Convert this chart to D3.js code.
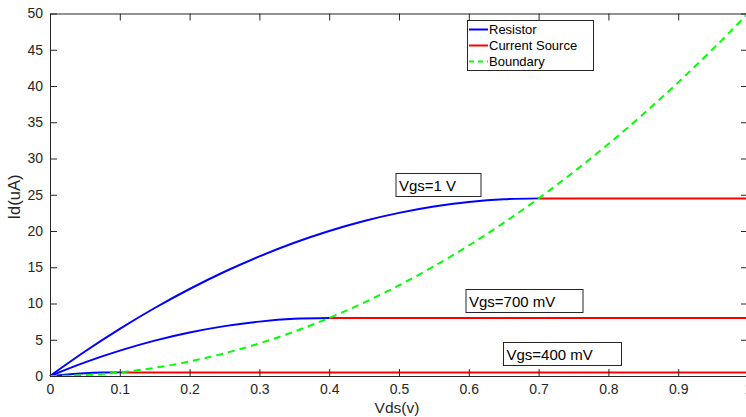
<!DOCTYPE html>
<html>
<head>
<meta charset="utf-8">
<script src="https://cdn.jsdelivr.net/npm/d3@7"></script>
<style>
  body { margin: 0; background: #fff; }
  svg { display: block; font-family: "Liberation Sans", Arial, sans-serif; }
</style>
</head>
<body>
<svg id="chart"></svg>
<script>
// values (Vds in V, Id in uA)
const vdsHigh = [0, 0.05, 0.1, 0.15, 0.2, 0.25, 0.3, 0.35, 0.4, 0.45, 0.5, 0.55, 0.6, 0.65, 0.7];
const idHigh = [0, 3.38, 6.5, 9.38, 12, 14.38, 16.5, 18.38, 20, 21.38, 22.5, 23.38, 24, 24.38, 24.5];
const vdsMid = [0, 0.05, 0.1, 0.15, 0.2, 0.25, 0.3, 0.35, 0.4];
const idMid = [0, 1.88, 3.5, 4.88, 6, 6.88, 7.5, 7.88, 8];
const vdsLow = [0, 0.025, 0.05, 0.075, 0.1];
const idLow = [0, 0.22, 0.38, 0.47, 0.5];
const satStart = [0.7, 0.4, 0.1];
const satLevel = [24.5, 8, 0.5];
const vdsBound = [0, 0.05, 0.1, 0.15, 0.2, 0.25, 0.3, 0.35, 0.4, 0.45, 0.5, 0.55, 0.6, 0.65, 0.7, 0.75, 0.8, 0.85, 0.9, 0.95, 1];
const idBound = [0, 0.13, 0.5, 1.13, 2, 3.13, 4.5, 6.13, 8, 10.13, 12.5, 15.13, 18, 21.13, 24.5, 28.13, 32, 36.13, 40.5, 45.13, 50];
const xTicks = [0, 0.1, 0.2, 0.3, 0.4, 0.5, 0.6, 0.7, 0.8, 0.9, 1];
const yTicks = [0, 5, 10, 15, 20, 25, 30, 35, 40, 45, 50];
const legendNames = ["Resistor", "Current Source", "Boundary"];
const gateLabels = ["Vgs=1 V", "Vgs=700 mV", "Vgs=400 mV"];

const width = 746, height = 417;
const margin = { top: 13.5, right: -2, bottom: 41, left: 50 };
const axisColor = "#262626";

const svg = d3.select("#chart").attr("width", width).attr("height", height);

const x = d3.scaleLinear().domain([0, 1]).range([margin.left, width - margin.right]);
const y = d3.scaleLinear().domain([0, 50]).range([height - margin.bottom, margin.top]);

const line = d3.line()
    .x(d => x(d[0]))
    .y(d => y(d[1]))
    .curve(d3.curveMonotoneX);

const plot = svg.append("g");

// resistor (triode) curves
[[vdsHigh, idHigh], [vdsMid, idMid], [vdsLow, idLow]].forEach(([xs, ys]) => {
    plot.append("path")
        .datum(xs.map((v, i) => [v, ys[i]]))
        .attr("fill", "none")
        .attr("stroke", "#0000ff")
        .attr("stroke-width", 2)
        .attr("d", line);
});

// current source (saturation) lines
satStart.forEach((s, i) => {
    plot.append("path")
        .datum([[s, satLevel[i]], [1, satLevel[i]]])
        .attr("fill", "none")
        .attr("stroke", "#ff0000")
        .attr("stroke-width", 2)
        .attr("d", line);
});

// boundary
plot.append("path")
    .datum(vdsBound.map((v, i) => [v, idBound[i]]))
    .attr("fill", "none")
    .attr("stroke", "#00ff00")
    .attr("stroke-width", 2)
    .attr("stroke-dasharray", "7,5")
    .attr("d", line);

// axes (MATLAB style box, inward ticks)
const tickLen = 7;
const xAxisB = svg.append("g").attr("transform", `translate(0,${y(0)})`)
    .call(d3.axisBottom(x).tickValues(xTicks).tickSizeInner(-tickLen).tickSizeOuter(0).tickPadding(8).tickFormat(d3.format("")));
const xAxisT = svg.append("g").attr("transform", `translate(0,${y(50)})`)
    .call(d3.axisTop(x).tickValues(xTicks).tickSizeInner(-tickLen).tickSizeOuter(0).tickFormat(""));
const yAxisL = svg.append("g").attr("transform", `translate(${x(0)},0)`)
    .call(d3.axisLeft(y).tickValues(yTicks).tickSizeInner(-tickLen).tickSizeOuter(0).tickPadding(7));
const yAxisR = svg.append("g").attr("transform", `translate(${x(1)},0)`)
    .call(d3.axisRight(y).tickValues(yTicks).tickSizeInner(-tickLen).tickSizeOuter(0).tickFormat(""));

[xAxisB, xAxisT, yAxisL, yAxisR].forEach(g => {
    g.selectAll("path, line").attr("stroke", axisColor).attr("stroke-width", 1);
    g.selectAll("text").attr("fill", axisColor).style("font-size", "14px");
});

// axis labels
svg.append("text")
    .attr("x", 397).attr("y", 413)
    .attr("text-anchor", "middle")
    .attr("fill", axisColor)
    .style("font-size", "15.5px")
    .text("Vds(v)");
svg.append("text")
    .attr("transform", `translate(20,197) rotate(-90)`)
    .attr("text-anchor", "middle")
    .attr("fill", axisColor)
    .style("font-size", "16.5px")
    .text("Id(uA)");

// annotation boxes
const boxes = [
    { x: 396, y: 173.5, w: 85, h: 23 },
    { x: 466, y: 289.5, w: 117, h: 23 },
    { x: 503.5, y: 342.5, w: 118, h: 23 }
];
boxes.forEach((b, i) => {
    const g = svg.append("g");
    g.append("rect")
        .attr("x", b.x).attr("y", b.y).attr("width", b.w).attr("height", b.h)
        .attr("fill", "#fff").attr("stroke", axisColor).attr("stroke-width", 1);
    g.append("text")
        .attr("x", b.x + 3).attr("y", b.y + 17)
        .attr("fill", "#000")
        .style("font-size", "15px")
        .text(gateLabels[i]);
});

// legend
const legend = svg.append("g");
legend.append("rect")
    .attr("x", 467.5).attr("y", 20.5).attr("width", 126).attr("height", 50)
    .attr("fill", "#fff").attr("stroke", axisColor).attr("stroke-width", 1);
const legendStyles = [
    { color: "#0000ff", dash: null },
    { color: "#ff0000", dash: null },
    { color: "#00ff00", dash: "5,4" }
];
legendNames.forEach((name, i) => {
    const ly = 29.5 + i * 16;
    legend.append("line")
        .attr("x1", 469).attr("x2", 488).attr("y1", ly).attr("y2", ly)
        .attr("stroke", legendStyles[i].color)
        .attr("stroke-width", 2)
        .attr("stroke-dasharray", legendStyles[i].dash);
    legend.append("text")
        .attr("x", 489).attr("y", ly + 4.5)
        .attr("fill", "#000")
        .style("font-size", "13px")
        .text(name);
});
</script>
</body>
</html>
